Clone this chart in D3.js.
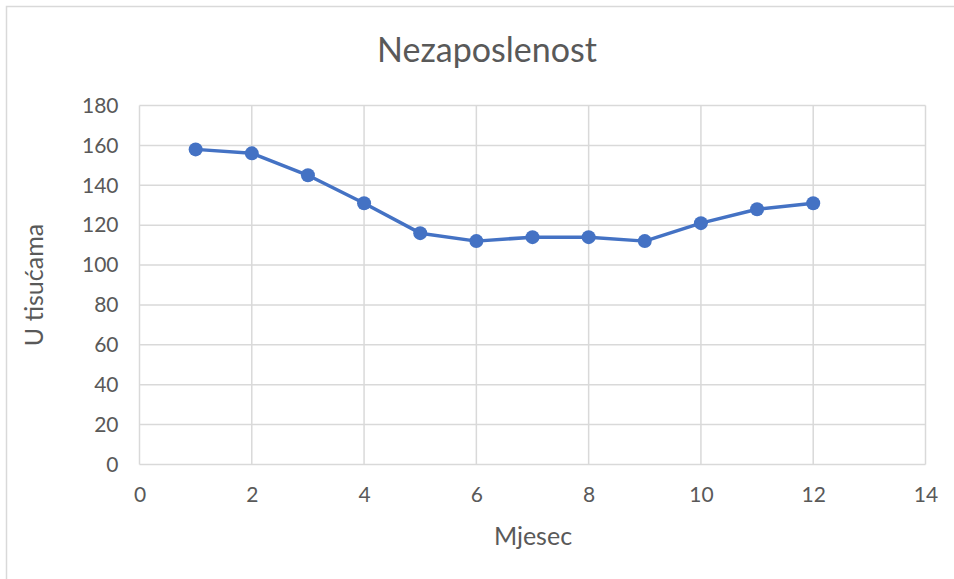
<!DOCTYPE html>
<html><head><meta charset="utf-8">
<script src="https://cdn.jsdelivr.net/npm/d3@7"></script>
<style>body{margin:0;background:#fff}svg{display:block}</style>
</head><body>
<script>
const months = [1,2,3,4,5,6,7,8,9,10,11,12];
const values = [158,156,145,131,116,112,114,114,112,121,128,131];
const xTicks = [0,2,4,6,8,10,12,14];
const yTicks = [0,20,40,60,80,100,120,140,160,180];
const title = "Nezaposlenost";
const xTitle = "Mjesec";
const yTitle = "U tisućama";

const W = 954, H = 579;
const font = "Lato, 'Open Sans', sans-serif";
const txt = "#595959";
const svg = d3.select("body").append("svg").attr("width", W).attr("height", H);
svg.append("rect").attr("x",6.5).attr("y",6.5).attr("width",W).attr("height",H)
  .attr("fill","#fff").attr("stroke","#d9d9d9").attr("stroke-width",1.5);

const x = d3.scaleLinear().domain([0,14]).range([139.5,925.5]);
const y = d3.scaleLinear().domain([0,180]).range([464.5,105.5]);

const g = svg.append("g");
g.selectAll(".hg").data(yTicks).join("line")
  .attr("x1", x(0)).attr("x2", x(14)).attr("y1", d=>y(d)).attr("y2", d=>y(d))
  .attr("stroke","#d9d9d9").attr("stroke-width",1.5);
g.selectAll(".vg").data(xTicks).join("line")
  .attr("y1", y(0)).attr("y2", y(180)).attr("x1", d=>x(d)).attr("x2", d=>x(d))
  .attr("stroke","#d9d9d9").attr("stroke-width",1.5);

const xa = svg.append("g").attr("transform",`translate(0,${y(0)})`)
  .call(d3.axisBottom(x).tickValues(xTicks).tickSize(0).tickPadding(23));
const ya = svg.append("g").attr("transform",`translate(${x(0)},0)`)
  .call(d3.axisLeft(y).tickValues(yTicks).tickSize(0).tickPadding(21));
[xa,ya].forEach(a=>{
  a.select(".domain").remove();
  a.selectAll("text").attr("fill",txt).style("font-family",font).style("font-size","21px");
});

svg.append("path").datum(months.map((m,i)=>[m,values[i]]))
  .attr("fill","none").attr("stroke","#4472C4").attr("stroke-width",3.5)
  .attr("stroke-linejoin","round")
  .attr("d", d3.line().x(d=>x(d[0])).y(d=>y(d[1])));
svg.selectAll(".pt").data(months.map((m,i)=>[m,values[i]])).join("circle")
  .attr("cx", d=>x(d[0])).attr("cy", d=>y(d[1])).attr("r",7)
  .attr("fill","#4472C4");

svg.append("text").attr("x",487).attr("y",62).attr("text-anchor","middle")
  .attr("fill",txt).style("font-family",font).style("font-size","34px").text(title);
svg.append("text").attr("x",533).attr("y",545).attr("text-anchor","middle")
  .attr("fill",txt).style("font-family",font).style("font-size","25px").text(xTitle);
svg.append("text").attr("transform","translate(43,285) rotate(-90)").attr("text-anchor","middle")
  .attr("fill",txt).style("font-family",font).style("font-size","25px").text(yTitle);
</script>
</body></html>
